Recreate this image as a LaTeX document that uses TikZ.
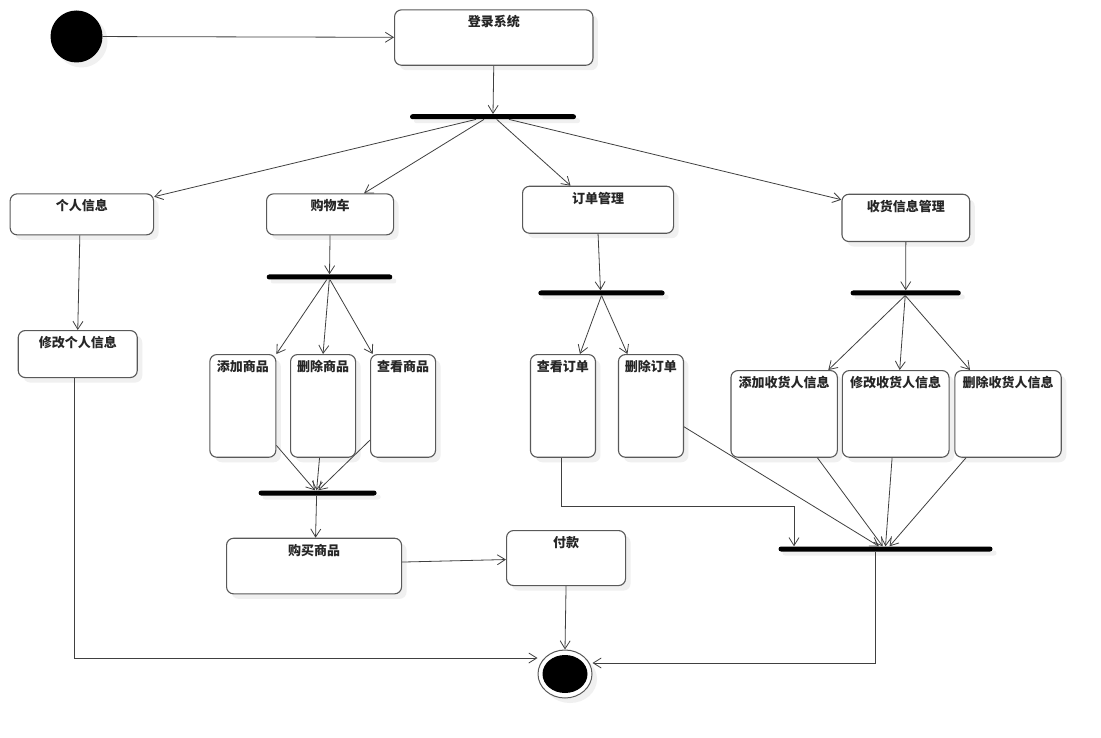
\documentclass[tikz,border=0pt]{standalone}
\usepackage{fontspec}
\newfontfamily\cjk{Noto Sans CJK SC}
\usetikzlibrary{arrows.meta,shapes.geometric,shadows}
\begin{document}
\begin{tikzpicture}[x=1pt,y=-1pt,
  shd/.style={drop shadow={shadow xshift=5pt,shadow yshift=-5pt,fill=black!6,opacity=1}},
  actbox/.style 2 args={draw=black!65,line width=1.1pt,fill=white,rounded corners=7pt,
    inner sep=0pt,anchor=north west,minimum width=#1,text height=17pt,text depth=#2,
    font=\cjk\bfseries\fontsize{13pt}{13pt}\selectfont,text=black!85,shd},
  forkbar/.style={fill=black,rounded corners=2.5pt,minimum height=5pt,inner sep=0pt,
    drop shadow={shadow xshift=4pt,shadow yshift=-4pt,fill=black!6,opacity=1}},
  arr/.style={draw=black!75,line width=0.8pt,-{Straight Barb[length=8pt,width=10pt,line width=0.8pt]}},
  ln/.style={draw=black!75,line width=0.8pt}]
\useasboundingbox (0,0) rectangle (1101,738);
\fill[white] (0,0) rectangle (1101,738);

% start / end
\node[circle,fill=black,minimum size=52pt,inner sep=0pt,shd] (start) at (76.5,36.5) {};
\node[ellipse,draw=black!65,line width=1pt,fill=white,minimum width=54pt,minimum height=48pt,inner sep=0pt,shd] (final) at (565,674) {};
\node[ellipse,fill=black,minimum width=45pt,minimum height=38pt,inner sep=0pt] (finalin) at (final.center) {};

% boxes
\node[actbox={198.4pt}{38.4pt}] (login) at (394,9.3) {登录系统};
\node[actbox={143.4pt}{24pt}] (info) at (9.6,193.3) {个人信息};
\node[actbox={127pt}{24pt}] (cart) at (266,193.3) {购物车};
\node[actbox={151pt}{30pt}] (order) at (522,185.7) {订单管理};
\node[actbox={127.8pt}{30.3pt}] (recv) at (841.4,193.7) {收货信息管理};
\node[actbox={119pt}{30pt}] (modinfo) at (17.7,330) {修改个人信息};
\node[actbox={66pt}{85.7pt}] (addg) at (209.3,354) {添加商品};
\node[actbox={65pt}{85.7pt}] (delg) at (290,354) {删除商品};
\node[actbox={65pt}{85.7pt}] (viewg) at (370,354) {查看商品};
\node[actbox={65pt}{85.7pt}] (viewo) at (529.9,354) {查看订单};
\node[actbox={65pt}{85.7pt}] (delo) at (617.9,354) {删除订单};
\node[actbox={106.4pt}{69.7pt}] (addr) at (730.4,370) {添加收货人信息};
\node[actbox={106.7pt}{69.7pt}] (modr) at (841.8,370) {修改收货人信息};
\node[actbox={106.4pt}{69.7pt}] (delr) at (954.3,370) {删除收货人信息};
\node[actbox={175pt}{38.6pt}] (buy) at (226,537.7) {购买商品};
\node[actbox={119pt}{38pt}] (pay) at (506,530) {付款};

% bars
\node[forkbar,minimum width=166pt] (bar1) at (493,116.7) {};
\node[forkbar,minimum width=125.6pt] (bar2) at (329.5,277) {};
\node[forkbar,minimum width=118pt] (bar3) at (317.6,493) {};
\node[forkbar,minimum width=126.3pt] (bar5) at (601.5,293) {};
\node[forkbar,minimum width=110.2pt] (bar6) at (905.7,293) {};
\node[forkbar,minimum width=214pt] (bar4) at (885.5,549) {};

% connectors
\draw[arr] (start) -- (login);
\draw[arr] (login.south) -- (bar1.north);
\draw[arr] ([xshift=-17pt]bar1.south) -- ([yshift=-3.4pt]info.north east);
\draw[arr] ([xshift=-9pt]bar1.south) -- ([xshift=34pt]cart.north);
\draw[arr] ([xshift=3.7pt]bar1.south) -- ([xshift=-27.5pt]order.north);
\draw[arr] ([xshift=16pt]bar1.south) -- ([yshift=-6pt]recv.north west);

\draw[arr] ([xshift=-2pt]info.south) -- (modinfo.north);
\draw[arr] ([xshift=-3pt]modinfo.south) |- ([yshift=16pt]final.west);

\draw[arr] (cart.south) -- (bar2.north);
\draw[arr] ([xshift=-2.8pt]bar2.south) -- (addg.north east);
\draw[arr] ([xshift=-0.2pt]bar2.south) -- (delg.north);
\draw[arr] ([xshift=0.5pt]bar2.south) -- ([xshift=2.7pt]viewg.north west);
\draw[arr] ([yshift=12.4pt]addg.south east) -- ([xshift=-2.6pt]bar3.north);
\draw[arr] ([xshift=-3.5pt]delg.south) -- ([xshift=-1pt]bar3.north);
\draw[arr] ([yshift=17.7pt]viewg.south west) -- ([xshift=0.7pt]bar3.north);
\draw[arr] ([xshift=-1pt]bar3.south) -- ([xshift=1.5pt]buy.north);
\draw[arr] ([yshift=4pt]buy.east) -- ([yshift=-1.5pt]pay.west);
\draw[arr] (pay.south) -- (final.north);

\draw[arr] (order.south) -- ([xshift=-1pt]bar5.north);
\draw[arr] ([xshift=-0.1pt]bar5.south) -- ([xshift=17pt]viewo.north);
\draw[arr] ([xshift=0.1pt]bar5.south) -- ([xshift=-23.5pt]delo.north);
\draw[arr] ([xshift=-1.6pt]viewo.south) -- ++(0,49) -| ([xshift=-91.5pt]bar4.north);
\draw[arr] ([yshift=31pt]delo.south east) -- ([xshift=-6.6pt]bar4.north);

\draw[arr] (recv.south) -- (bar6.north);
\draw[arr] ([xshift=-0.7pt]bar6.south) -- ([xshift=-9.6pt]addr.north east);
\draw[arr] ([xshift=-0.5pt]bar6.south) -- ([xshift=4pt]modr.north);
\draw[arr] ([xshift=-0.3pt]bar6.south) -- ([xshift=15.7pt]delr.north west);
\draw[arr] ([xshift=33.3pt]addr.south) -- ([xshift=-2.8pt]bar4.north);
\draw[arr] ([xshift=-3.6pt]modr.south) -- (bar4.north);
\draw[arr] ([xshift=11.7pt]delr.south west) -- ([xshift=4pt]bar4.north);
\draw[arr] ([xshift=-10.5pt]bar4.south) |- ([yshift=11pt]final.east);
\end{tikzpicture}
\end{document}
